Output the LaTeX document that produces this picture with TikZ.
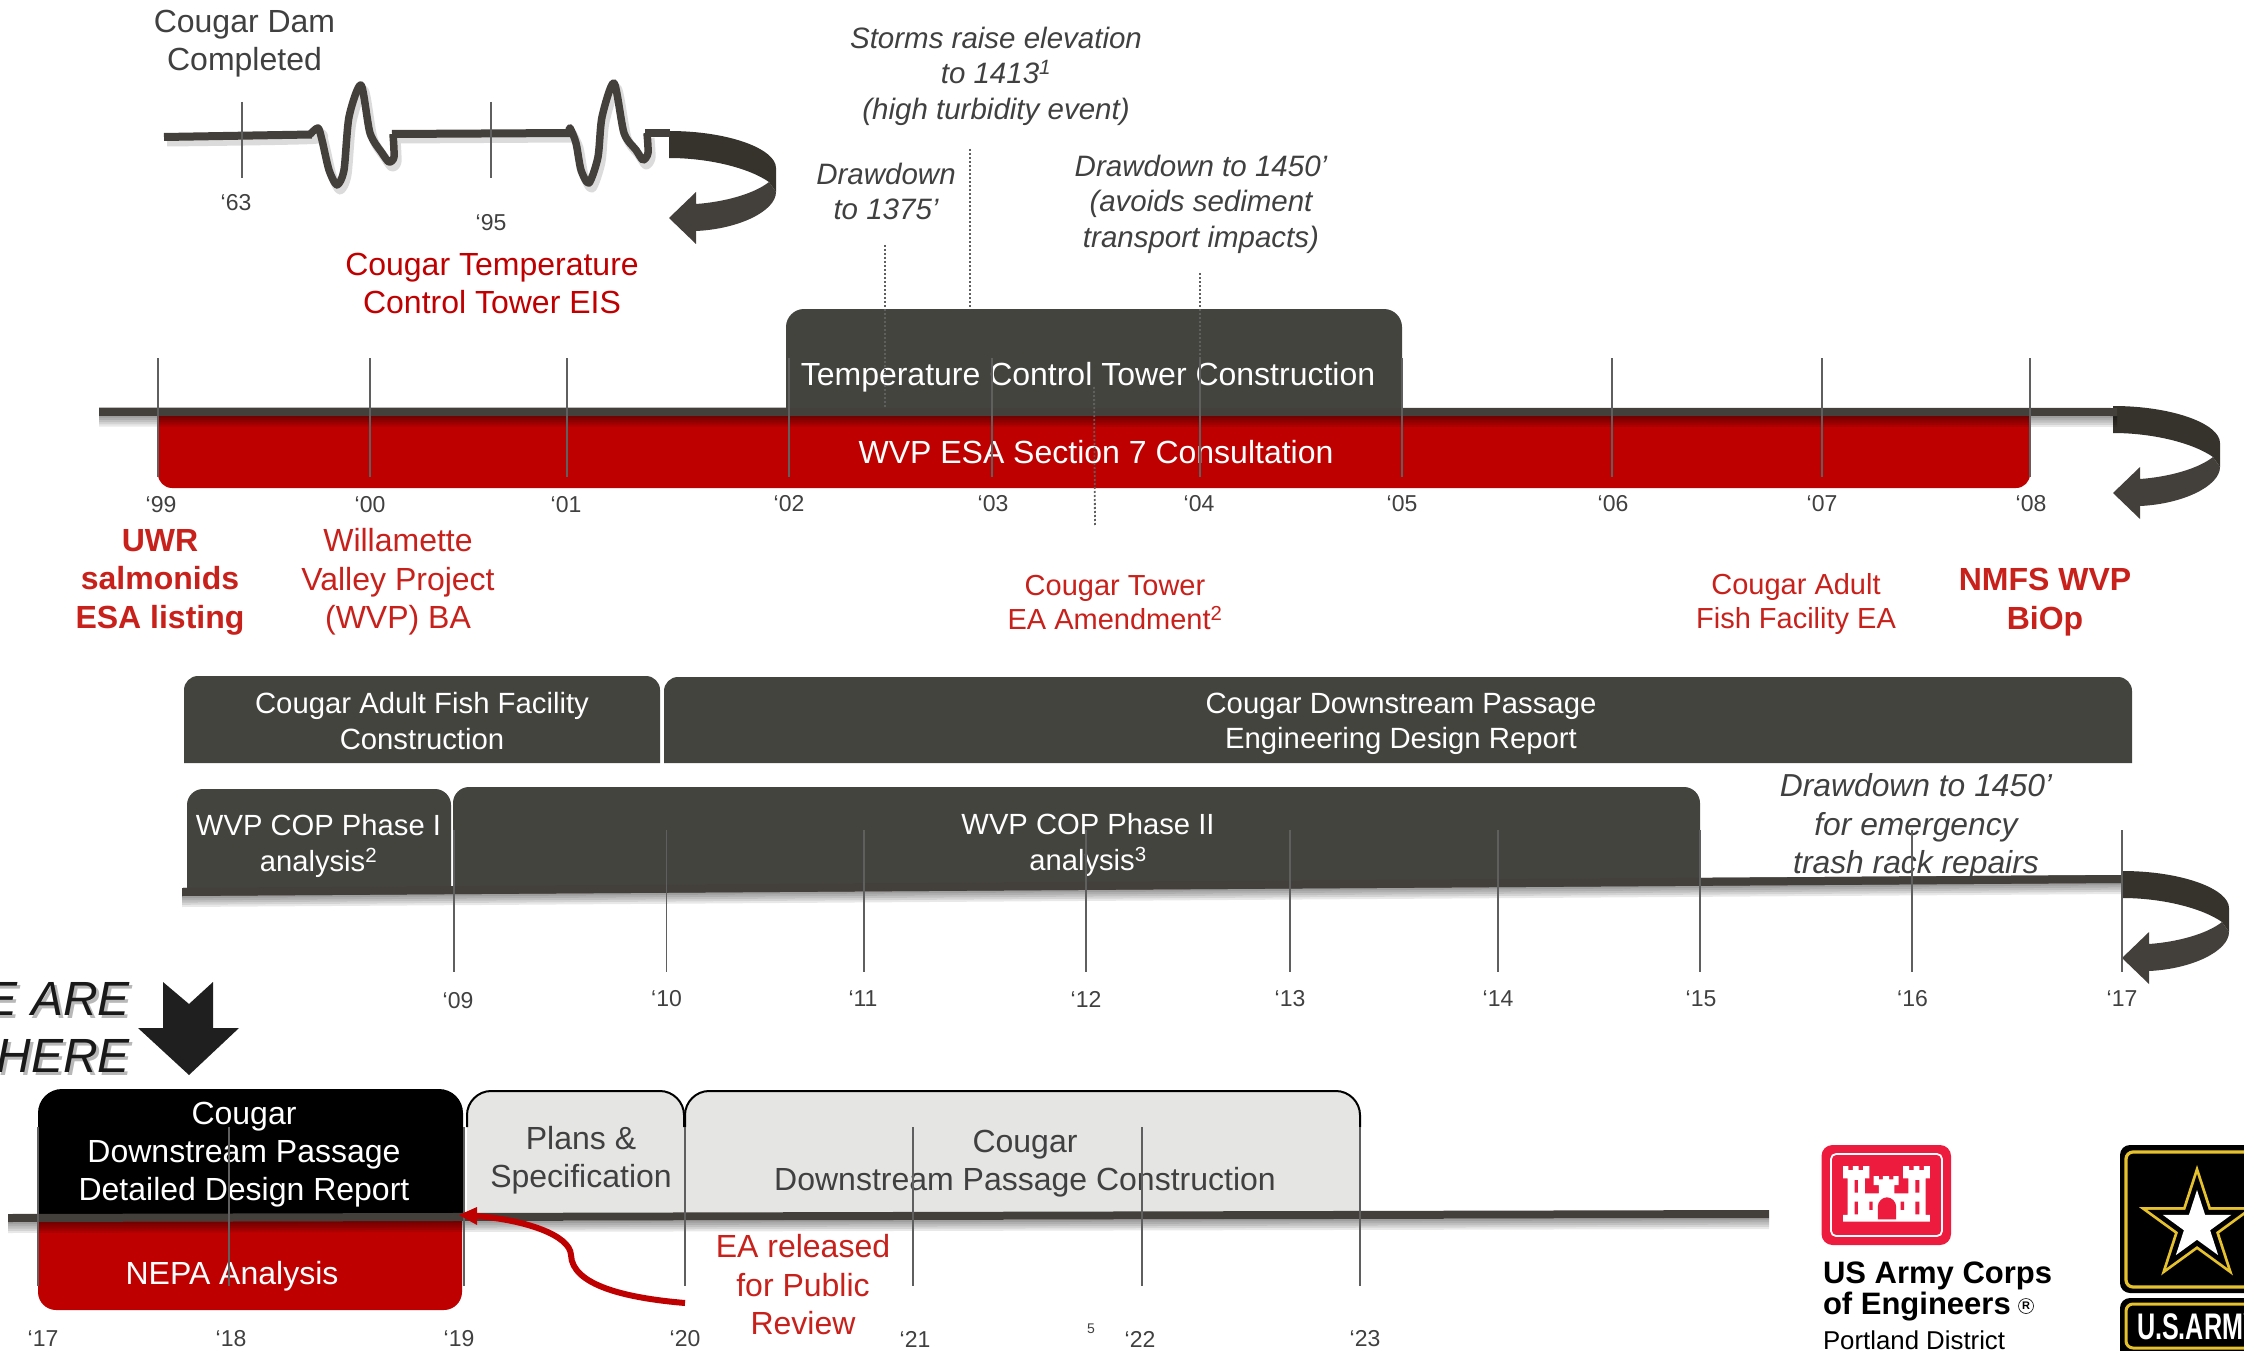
\documentclass[tikz,border=0pt]{standalone}
\usepackage{fontspec}
\setmainfont{Liberation Sans}
\definecolor{boxdark}{HTML}{43443E}
\definecolor{linedark}{HTML}{433F3A}
\definecolor{arrowtop}{HTML}{36332D}
\definecolor{barred}{HTML}{BF0000}
\definecolor{redtxt}{HTML}{C00000}
\definecolor{redtxtb}{HTML}{C8201A}
\definecolor{greytxt}{HTML}{404040}
\definecolor{tickc}{HTML}{5F5F5F}
\definecolor{lightbox}{HTML}{E5E6E4}
\definecolor{castle}{HTML}{ED1B3E}
\definecolor{armyy}{HTML}{E6C12E}
\tikzset{
  ft/.style 2 args={font=\fontsize{#1}{#2}\selectfont},
  txt/.style={inner sep=0pt,outer sep=0pt,align=center},
  yr/.style={txt,text=greytxt,ft={23}{27}},
  darkt/.style={txt,text=greytxt,ft={32}{38}},
  white31/.style={txt,text=white,ft={32}{38}},
  white30/.style={txt,text=white,ft={29.3}{35.5}},
  red31/.style={txt,text=redtxtb,ft={32}{38.5}},
  redb31/.style={txt,text=redtxtb,font=\fontsize{32}{38.5}\selectfont\bfseries},
  red29/.style={txt,text=redtxtb,ft={29}{34.5}},
  ital/.style={txt,text=greytxt,font=\fontsize{#1}{35.5}\selectfont\itshape},
  tick/.style={draw=tickc,line width=1.8pt},
  dotl/.style={draw=tickc,line width=1.8pt,dash pattern=on 2pt off 2pt},
}
% box with rounded top corners
\newcommand\tabbox[6]{\path[#1] (#2,#5) -- ({#2},{#3+#6}) .. controls ({#2},{#3+.45*#6}) and ({#2+.45*#6},#3) .. ({#2+#6},#3) -- ({#4-#6},#3) .. controls ({#4-.45*#6},#3) and (#4,{#3+.45*#6}) .. (#4,{#3+#6}) -- (#4,#5) -- cycle;}
% box with rounded bottom corners
\newcommand\bowlbox[6]{\path[#1] (#2,#3) -- ({#2},{#5-#6}) .. controls ({#2},{#5-.45*#6}) and ({#2+.45*#6},#5) .. ({#2+#6},#5) -- ({#4-#6},#5) .. controls ({#4-.45*#6},#5) and (#4,{#5-.45*#6}) .. (#4,{#5-#6}) -- (#4,#3) -- cycle;}
% timeline bar with soft shadow
\newcommand\tlbar[4]{%
  \foreach \i in {1,...,5}{\fill[black,opacity=.09] (#1,{#2+4}) -- (#3,{#4+4}) -- (#3,{#4+4+2.2*\i}) -- (#1,{#2+4+2.2*\i}) -- cycle;}
  \fill[linedark] (#1,{#2-4}) -- (#3,{#4-4}) -- (#3,{#4+4}) -- (#1,{#2+4}) -- cycle;}
% the curling arrow at a line's end
\newcommand\turnarrow[2]{\begin{scope}[shift={(#1,#2)}]
  \fill[arrowtop] (0,0) .. controls (60,0) and (107,18) .. (107,37) -- (107,61) -- (100,51) .. controls (80,37) and (40,27) .. (0,27) -- cycle;
  \fill[linedark] (100,51) -- (107,61) .. controls (107,80) and (70,98) .. (27,100) -- (27,113) -- (0,87) -- (27,61) -- (27,73) .. controls (55,71) and (85,63) .. (100,51) -- cycle;
\end{scope}}
\newcommand\vtick[3]{\draw[tick] (#1,#2) -- (#1,#3);}
\begin{document}
\begin{tikzpicture}[x=1pt,y=-1pt]
\useasboundingbox (0,0) rectangle (2244,1351);
\clip (0,0) rectangle (2244,1351);

%%% first timeline: the dam
\turnarrow{669}{131}
\draw[black,opacity=.14,line width=9pt,line join=round,xshift=3pt,yshift=-5pt]
  plot[smooth,tension=.45] coordinates {(164,137)(310,134.5)(318,128)(322,140)(329,170)(337,185)(344,170)(349,117)(361,85)(370,133)(382,153)(389,162)(394,157)(393,134)}
  (393,134) -- (569,133)
  plot[smooth,tension=.45] coordinates {(569,128)(576,143)(581,170)(589,183)(598,157)(602,117)(614,83)(624,133)(636,150)(643,160)(648,153)(647,133)};
\draw[linedark,line width=7.5pt,line join=round]
  plot[smooth,tension=.45] coordinates {(310,134.5)(318,128)(322,140)(329,170)(337,185)(344,170)(349,117)(361,85)(370,133)(382,153)(389,162)(394,157)(393,134)};
\draw[linedark,line width=7.5pt,line join=round]
  plot[smooth,tension=.45] coordinates {(569,133)(570,128)(576,143)(581,170)(589,183)(598,157)(602,117)(614,83)(624,133)(636,150)(643,160)(648,153)(647,133)};
\draw[linedark,line width=8pt] (164,137) -- (312,134.5);
\draw[linedark,line width=8pt] (392,134) -- (571,133);
\draw[linedark,line width=8pt] (645,133) -- (670,133);
\vtick{242}{102}{178}
\vtick{491}{102}{178}
\node[txt,text=greytxt,ft={32}{38}] (damlabel) at (244.5,44) {Cougar Dam\\Completed};
\node[yr] (y63) at (236,203) {‘63};
\node[yr] (y95) at (491,223) {‘95};
\node[txt,text=redtxt,ft={32}{38}] (eis) at (492,283.5) {Cougar Temperature\\Control Tower EIS};

%%% second timeline
\bowlbox{fill=barred}{158}{412}{2030}{488}{14}
\turnarrow{2113}{406}
\tlbar{99}{411.5}{2117}{412}
\tabbox{fill=boxdark}{786}{309}{1402}{412}{18}
\fill[linedark] (99,408) rectangle (2117,416);
\node[white31] (tctc) at (1088,377) {Temperature Control Tower Construction};
\node[white31] (esa) at (1096,452) {WVP ESA Section 7 Consultation};
\foreach \x in {158,370,567,789,992,1200,1402,1612,1822,2030}{\vtick{\x}{358}{477}}
\draw[tickc,line width=2.4pt] (158,416) -- (158,476);
\draw[dotl] (885,245) -- (885,408);
\draw[dotl] (970,149) -- (970,309);
\draw[dotl] (1200,273) -- (1200,408);
\draw[dotl] (1094,387) -- (1095,525);
\node[yr] (y99) at (161,505) {‘99};
\node[yr] (y00) at (370,505) {‘00};
\node[yr] (y01) at (566,505) {‘01};
\node[yr] (y02) at (789,504) {‘02};
\node[yr] (y03) at (993,504) {‘03};
\node[yr] (y04) at (1199,504) {‘04};
\node[yr] (y05) at (1402,504) {‘05};
\node[yr] (y06) at (1613,504) {‘06};
\node[yr] (y07) at (1822,504) {‘07};
\node[yr] (y08) at (2031,504) {‘08};
\node[ital=29.5] (storms) at (996,76) {Storms raise elevation\\to 1413\textsuperscript{1}\\(high turbidity event)};
\node[ital=29.5] (dd1375) at (886,191.5) {Drawdown\\to 1375’};
\node[ital=29.5] (dd1450) at (1201,204) {Drawdown to 1450’\\(avoids sediment\\transport impacts)};
\node[redb31] (uwr) at (160,582) {UWR\\salmonids\\ESA listing};
\node[red31] (wvpba) at (398,582) {Willamette\\Valley Project\\(WVP) BA};
\node[red29] (amend) at (1115,602.5) {Cougar Tower\\EA Amendment\textsuperscript{2}};
\node[red29] (adultea) at (1796,604) {Cougar Adult\\Fish Facility EA};
\node[redb31] (bio) at (2045,602) {NMFS WVP\\BiOp};

%%% design boxes
\tabbox{fill=boxdark}{184}{676}{660}{763}{14}
\tabbox{fill=boxdark}{664}{677}{2132}{763}{14}
\node[white30] (adultc) at (422,721) {Cougar Adult Fish Facility\\Construction};
\node[white30] (dper) at (1401,724) {Cougar Downstream Passage\\Engineering Design Report};

%%% third timeline
\turnarrow{2122}{871}
\tlbar{182}{892}{2122}{879}
\tabbox{fill=boxdark}{187}{789}{451}{889}{16}
\tabbox{fill=boxdark}{453}{787}{1700}{870}{16}
\fill[boxdark] (453,869) -- (1700,869) -- (1700,882) -- (453,890) -- cycle;
\fill[linedark] (182,888) -- (2122,875) -- (2122,883) -- (182,896) -- cycle;
\node[txt,text=white,ft={29.2}{36}] (cop1) at (318.5,846) {WVP COP Phase I\\analysis\textsuperscript{2}};
\node[txt,text=white,ft={29.2}{36}] (cop2) at (1088,845) {WVP COP Phase II\\analysis\textsuperscript{3}};
\node[txt,text=greytxt,font=\fontsize{31.8}{38.5}\selectfont\itshape] (dd3) at (1916,827) {Drawdown to 1450’\\for emergency\\trash rack repairs};
\foreach \x in {454,666.5,864,1086,1290,1498,1700,1912,2122}{\vtick{\x}{830}{972}}
\node[yr] (y09) at (458,1001) {‘09};
\node[yr] (y10) at (666.5,999) {‘10};
\node[yr] (y11) at (863,999) {‘11};
\node[yr] (y12) at (1086,999) {‘12};
\node[yr] (y13) at (1290,999) {‘13};
\node[yr] (y14) at (1498,999) {‘14};
\node[yr] (y15) at (1701,999) {‘15};
\node[yr] (y16) at (1912.5,999) {‘16};
\node[yr] (y17) at (2122,999) {‘17};

%%% we are here
\node[txt,anchor=east,text=black!28,align=right,font=\fontsize{48}{57}\selectfont\itshape] (hereshadow) at (133,1030) {WE ARE\\HERE};
\node[txt,anchor=east,text=black!90,align=right,font=\fontsize{48}{57}\selectfont\itshape] (here) at (130,1027) {WE ARE\\HERE};
\fill[black!88] (163,982) -- (189,1004) -- (213,982) -- (213,1028) -- (239,1028) -- (189,1075) -- (138,1028) -- (163,1028) -- cycle;

%%% fourth timeline
\bowlbox{fill=barred}{38}{1216}{462}{1310}{18}
\tabbox{fill=black}{38}{1089}{463}{1216}{24}
\tabbox{fill=lightbox}{467}{1091}{684}{1214}{24}
\tabbox{fill=lightbox}{685}{1091}{1360}{1214}{24}
\draw[black,line width=2pt] (467,1127) -- (467,1115) .. controls (467,1102) and (478,1091) .. (491,1091) -- (660,1091) .. controls (673,1091) and (684,1102) .. (684,1115) -- (684,1127);
\draw[black,line width=2pt] (685,1127) -- (685,1115) .. controls (685,1102) and (696,1091) .. (709,1091) -- (1336,1091) .. controls (1349,1091) and (1360,1102) .. (1360,1115) -- (1360,1127);
\tlbar{8}{1218}{1769}{1214}
\node[white31] (detail) at (244,1155) {Cougar\\Downstream Passage\\Detailed Design Report};
\node[white31] (nepa) at (232,1276) {NEPA Analysis};
\node[darkt] (plans) at (581,1160) {Plans \&\\Specification};
\node[darkt] (constr) at (1025,1164) {Cougar\\Downstream Passage Construction};
\foreach \x in {38,229,464,685,913,1142,1360}{\vtick{\x}{1127}{1286}}
\node[red31] (earel) at (803,1285) {EA released\\for Public\\Review};
\coordinate (easrc) at (685,1303);
\coordinate (eatgt) at (477,1216);
\draw[barred,line width=6pt] (easrc) .. controls (625,1298) and (572,1285) .. (571,1255) .. controls (570,1235) and (525,1220) .. (eatgt);
\fill[barred] (459,1215) -- (477,1207) -- (477,1225) -- cycle;
\node[yr] (y17b) at (43,1339) {‘17};
\node[yr] (y18) at (231,1339) {‘18};
\node[yr] (y19) at (459,1339) {‘19};
\node[yr] (y20) at (685,1339) {‘20};
\node[yr] (y21) at (915,1339) {‘21};
\node[yr] (y22) at (1140,1339) {‘22};
\node[yr] (y23) at (1365,1339) {‘23};
\node[txt,text=greytxt,ft={14}{16}] (pageno) at (1091,1329) {5};

%%% corps of engineers logo
\fill[castle,rounded corners=11pt] (1821.5,1145) rectangle (1951,1245);
\draw[white,line width=1.8pt,rounded corners=5pt] (1831,1154) rectangle (1942,1236);
\begin{scope}[shift={(1700,1100)},x=0.3472pt,y=-0.3333pt]
\fill[white] (412,365) -- (412,345) -- (425,345) -- (425,235) -- (412,235) -- (412,198) -- (427,198) -- (427,210) -- (440,210) -- (440,198) -- (457,198) -- (457,210) -- (470,210) -- (470,198) -- (488,198) -- (488,235) -- (475,235) -- (475,280) -- (515,280) -- (515,255) -- (500,255) -- (500,228) -- (515,228) -- (515,238) -- (527,238) -- (527,228) -- (545,228) -- (545,238) -- (557,238) -- (557,228) -- (572,228) -- (572,255) -- (560,255) -- (560,280) -- (600,280) -- (600,235) -- (585,235) -- (585,198) -- (602,198) -- (602,210) -- (615,210) -- (615,198) -- (632,198) -- (632,210) -- (645,210) -- (645,198) -- (662,198) -- (662,235) -- (650,235) -- (650,345) -- (662,345) -- (662,365) -- cycle;
\fill[castle] (512,358) -- (512,320) .. controls (512,305) and (525,292) .. (538,292) .. controls (552,292) and (565,305) .. (565,320) -- (565,358) -- cycle;
\fill[castle] (445,240) rectangle (455,278) (620,240) rectangle (632,278) (445,305) rectangle (455,343) (620,305) rectangle (632,343) (488,305) rectangle (497,330) (578,305) rectangle (588,330);
\end{scope}
\node[txt,anchor=west,align=left,font=\fontsize{31}{31}\selectfont\bfseries] (usace) at (1823,1291) {US Army Corps\\of Engineers};
\node[txt,font=\fontsize{11}{12}\selectfont\bfseries,draw=black,line width=.6pt,circle,minimum size=15pt] (regd) at (2026,1306) {R};
\node[txt,anchor=west,font=\fontsize{25.8}{28}\selectfont] (portland) at (1823,1340) {Portland District};

%%% army logo
\fill[black,rounded corners=10pt] (2120,1145) rectangle (2270,1293);
\draw[armyy,line width=3.2pt,rounded corners=7pt] (2126,1152) rectangle (2270,1287);
\begin{scope}[shift={(2197,1226)}]
\foreach \R/\c in {61/armyy,52/black,36/white}{
  \fill[\c] (0,-\R)
  \foreach \a in {1,...,9}{ -- ({(mod(\a,2)==1 ? .382 : 1)*\R*sin(\a*36)},{-(mod(\a,2)==1 ? .382 : 1)*\R*cos(\a*36)})} -- cycle;
}
\end{scope}
\fill[black,rounded corners=10pt] (2120,1298) rectangle (2270,1380);
\draw[armyy,line width=3pt,rounded corners=7pt] (2126,1304) rectangle (2270,1348);
\node[txt,anchor=west,text=white,xscale=.68,font=\fontsize{37}{40}\selectfont\bfseries] (usarmy) at (2137,1327) {U.S.ARMY};
\end{tikzpicture}
\end{document}
